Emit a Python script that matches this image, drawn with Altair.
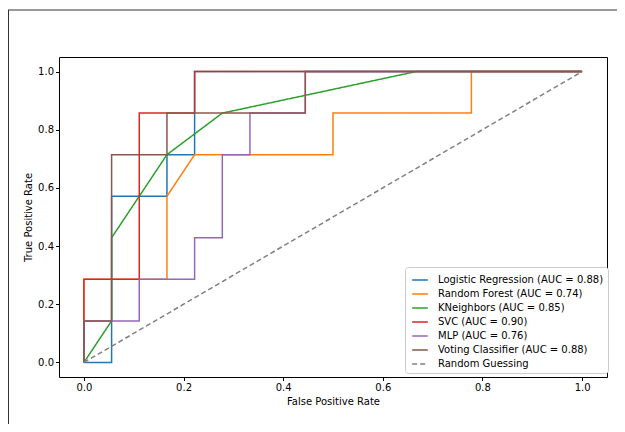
import altair as alt
import pandas as pd

# ---- data ----
models = [
    "Logistic Regression (AUC = 0.88)",
    "Random Forest (AUC = 0.74)",
    "KNeighbors (AUC = 0.85)",
    "SVC (AUC = 0.90)",
    "MLP (AUC = 0.76)",
    "Voting Classifier (AUC = 0.88)",
    "Random Guessing",
]
colors = ["#1f77b4", "#ff7f0e", "#2ca02c", "#d62728", "#9467bd", "#8c564b", "#808080"]

lr_fpr = [0.0, 0.0556, 0.0556, 0.1667, 0.1667, 0.2222, 0.2222, 1.0]
lr_tpr = [0.0, 0.0, 0.5714, 0.5714, 0.7143, 0.7143, 1.0, 1.0]

rf_fpr = [0.0, 0.0, 0.1667, 0.1667, 0.2222, 0.5, 0.5, 0.7778, 0.7778, 1.0]
rf_tpr = [0.0, 0.2857, 0.2857, 0.5714, 0.7143, 0.7143, 0.8571, 0.8571, 1.0, 1.0]

kn_fpr = [0.0, 0.0556, 0.0556, 0.1667, 0.2778, 0.6667, 1.0]
kn_tpr = [0.0, 0.1429, 0.4286, 0.7143, 0.8571, 1.0, 1.0]

svc_fpr = [0.0, 0.0, 0.1111, 0.1111, 0.2222, 0.2222, 1.0]
svc_tpr = [0.0, 0.2857, 0.2857, 0.8571, 0.8571, 1.0, 1.0]

mlp_fpr = [0.0, 0.0, 0.1111, 0.1111, 0.2222, 0.2222, 0.2778, 0.2778, 0.3333, 0.3333, 0.4444, 0.4444, 1.0]
mlp_tpr = [0.0, 0.1429, 0.1429, 0.2857, 0.2857, 0.4286, 0.4286, 0.7143, 0.7143, 0.8571, 0.8571, 1.0, 1.0]

vote_fpr = [0.0, 0.0, 0.0556, 0.0556, 0.1667, 0.1667, 0.4444, 0.4444, 1.0]
vote_tpr = [0.0, 0.1429, 0.1429, 0.7143, 0.7143, 0.8571, 0.8571, 1.0, 1.0]

rand_fpr = [0.0, 1.0]
rand_tpr = [0.0, 1.0]

tick_vals = [0.0, 0.2, 0.4, 0.6, 0.8, 1.0]

series = [
    (models[0], lr_fpr, lr_tpr),
    (models[1], rf_fpr, rf_tpr),
    (models[2], kn_fpr, kn_tpr),
    (models[3], svc_fpr, svc_tpr),
    (models[4], mlp_fpr, mlp_tpr),
    (models[5], vote_fpr, vote_tpr),
    (models[6], rand_fpr, rand_tpr),
]

rows = []
for name, fx, ty in series:
    for i, (a, b) in enumerate(zip(fx, ty)):
        rows.append({"model": name, "fpr": a, "tpr": b, "idx": i})
df = pd.DataFrame(rows)

FONT = "DejaVu Sans"

x_enc = alt.X(
    "fpr:Q",
    scale=alt.Scale(domain=[-0.05, 1.05], nice=False, zero=False),
    axis=alt.Axis(title="False Positive Rate", values=tick_vals, format=".1f"),
)
y_enc = alt.Y(
    "tpr:Q",
    scale=alt.Scale(domain=[-0.05, 1.05], nice=False, zero=False),
    axis=alt.Axis(title="True Positive Rate", values=tick_vals, format=".1f"),
)
color_enc = alt.Color(
    "model:N",
    scale=alt.Scale(domain=models, range=colors),
    title=None,
    legend=alt.Legend(
        orient="none",
        legendX=346,
        legendY=210,
        symbolType="stroke",
        symbolSize=245,
        symbolStrokeWidth=1.5,
        symbolOffset=2,
        labelFontSize=10,
        labelFont=FONT,
        labelColor="black",
        labelLimit=300,
        labelOffset=9,
        fillColor="white",
        strokeColor="#cccccc",
        cornerRadius=3,
        padding=4,
        rowPadding=0,
    ),
)
dash_enc = alt.StrokeDash(
    "model:N",
    scale=alt.Scale(domain=models, range=[[1, 0]] * 6 + [[5, 3]]),
    title=None,
)

base = alt.Chart(df).mark_line(strokeWidth=1.5).encode(
    x=x_enc, y=y_enc, color=color_enc, strokeDash=dash_enc, order=alt.Order("idx:Q")
)

layers = [base.transform_filter(alt.datum.model == m) for m in models]

dummy = pd.DataFrame({"a": [0]})
frame_v = alt.Chart(dummy).mark_rule(color="#333333", strokeWidth=1).encode(
    x=alt.value(-50.5), y=alt.value(-47), y2=alt.value(367)
)
frame_h = alt.Chart(dummy).mark_rule(color="#333333", strokeWidth=1).encode(
    x=alt.value(-51), x2=alt.value(558), y=alt.value(-47)
)

chart = alt.layer(frame_v, frame_h, *layers).properties(
    width=548,
    height=320,
    autosize=alt.AutoSizeParams(type="none"),
    padding={"left": 51, "top": 49, "right": 10, "bottom": 47},
    title=alt.TitleParams(
        "ROC Curve Comparison", font=FONT, fontSize=12, fontWeight="normal", color="black", offset=5
    ),
).configure_view(stroke="black", strokeWidth=1).configure_axis(
    grid=False,
    domain=False,
    tickSize=3.5,
    tickColor="black",
    labelFont=FONT,
    labelFontSize=10,
    labelColor="black",
    labelPadding=2,
    titleFont=FONT,
    titleFontSize=10,
    titleFontWeight="normal",
    titleColor="black",
    titlePadding=4,
)

chart.save("out.html", embed_options={"renderer": "svg", "actions": False})
